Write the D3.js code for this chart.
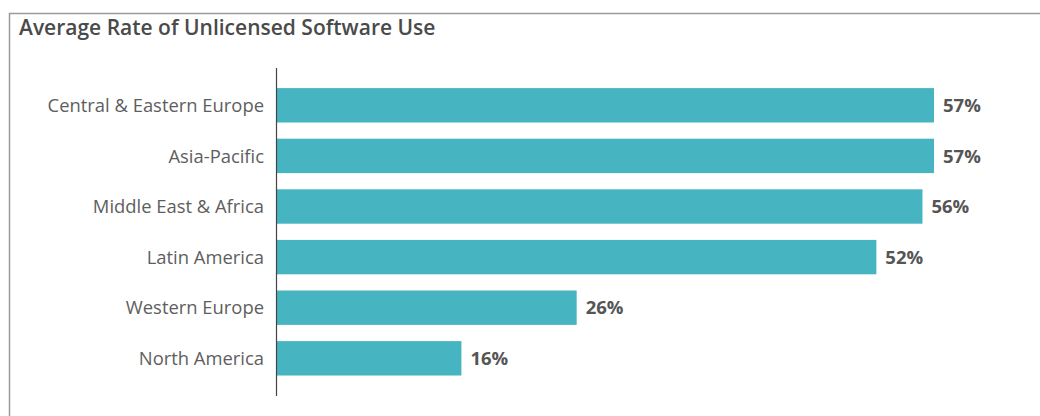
<!DOCTYPE html>
<html>
<head>
<meta charset="utf-8">
<script src="https://cdn.jsdelivr.net/npm/d3@7"></script>
<style>
  body { margin: 0; background: #fff; }
  svg { display: block; font-family: "Open Sans", Lato, sans-serif; }
</style>
</head>
<body>
<div id="chart"></div>
<script>
const regions = ["Central & Eastern Europe", "Asia-Pacific", "Middle East & Africa", "Latin America", "Western Europe", "North America"];
const rates = [57, 57, 56, 52, 26, 16];

const svgWidth = 1040;
const svgHeight = 416;

const svg = d3.select("#chart")
  .append("svg")
  .attr("width", svgWidth)
  .attr("height", svgHeight);

// frame (top + left edges only visible)
svg.append("path")
  .attr("d", "M1040,13.5 H9.5 V416")
  .attr("fill", "none")
  .attr("stroke", "#9a9a9a")
  .attr("stroke-width", 1.5);

svg.append("text")
  .attr("x", 19)
  .attr("y", 35)
  .attr("fill", "#4a4a4a")
  .attr("font-size", 21)
  .attr("font-weight", 600)
  .text("Average Rate of Unlicensed Software Use");

const x0 = 277;
const x = d3.scaleLinear()
  .domain([0, 57])
  .range([x0, 934]);

const y = d3.scaleBand()
  .domain(regions)
  .range([80, 383.6])
  .paddingInner(0.32)
  .paddingOuter(0.16);

const data = regions.map((r, i) => ({ region: r, rate: rates[i] }));

svg.selectAll("rect.bar")
  .data(data)
  .enter()
  .append("rect")
  .attr("class", "bar")
  .attr("x", x(0))
  .attr("y", d => y(d.region))
  .attr("width", d => x(d.rate) - x(0))
  .attr("height", y.bandwidth())
  .attr("fill", "#47b5c1");

// axis line
svg.append("line")
  .attr("x1", x0 - 0.5).attr("x2", x0 - 0.5)
  .attr("y1", 68).attr("y2", 396)
  .attr("stroke", "#444")
  .attr("stroke-width", 1.2);

svg.selectAll("text.cat")
  .data(data)
  .enter()
  .append("text")
  .attr("class", "cat")
  .attr("x", 264)
  .attr("y", d => y(d.region) + y.bandwidth() / 2)
  .attr("dy", "0.36em")
  .attr("text-anchor", "end")
  .attr("fill", "#5e5e5e")
  .attr("font-size", 18.4)
  .text(d => d.region);

svg.selectAll("text.val")
  .data(data)
  .enter()
  .append("text")
  .attr("class", "val")
  .attr("x", d => x(d.rate) + 9)
  .attr("y", d => y(d.region) + y.bandwidth() / 2)
  .attr("dy", "0.36em")
  .attr("fill", "#555")
  .attr("font-size", 18.5)
  .attr("font-weight", 700)
  .text(d => d.rate + "%");
</script>
</body>
</html>
